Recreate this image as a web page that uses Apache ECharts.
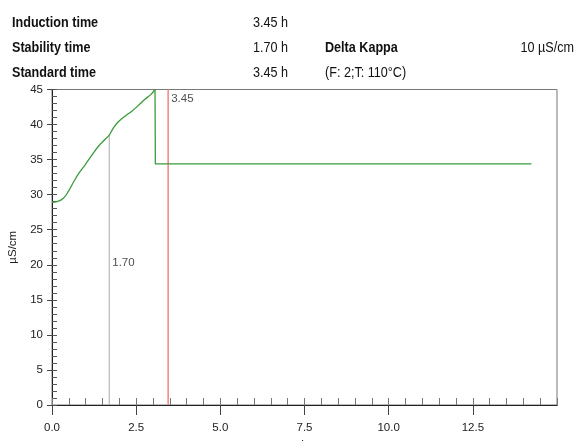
<!DOCTYPE html>
<html lang="en">
<head>
    <meta charset="UTF-8">
    <script src="https://cdn.jsdelivr.net/npm/echarts@6/dist/echarts.min.js"></script>
    <title>Rancimat</title>
    <style>
        html, body {margin: 0; padding: 0; background: #fff;}
    </style>
</head>
<body>

<div id="ec" style="width:574px;height:441px;"></div>

<script>
    // conductivity curve (h, µS/cm) up to the max
    var curveTime = [0, 0.15, 0.34, 0.49, 0.64, 0.79, 0.99, 1.18, 1.38, 1.58, 1.70, 1.82, 1.97, 2.17, 2.37, 2.56, 2.76, 2.94, 3.06];
    var curveValue = [28.9, 29.0, 29.5, 30.5, 31.8, 33.0, 34.3, 35.6, 36.9, 37.9, 38.5, 39.5, 40.4, 41.2, 41.9, 42.7, 43.6, 44.3, 45.0];
    // drop and flat part
    var tailTime = [3.06, 3.07, 14.24];
    var tailValue = [45.0, 34.4, 34.4];

    var stabilityTime = 1.70;
    var stabilityValue = 38.5;
    var inductionTime = 3.45;

    var infoLabels = ['Induction time', 'Stability time', 'Standard time'];
    var infoValues = ['3.45 h', '1.70 h', '3.45 h'];

    var xMin = 0, xMax = 15, xStep = 2.5;
    var yMin = 0, yMax = 45, yStep = 5;

    var FONT = "'Liberation Sans', Arial, sans-serif";
    var NARROW = 0.9;

    var myChart = echarts.init(document.getElementById('ec'));

    function pairs(a, b) { return a.map(function (t, i) { return [t, b[i]]; }); }

    // header texts (squeezed to look like a narrow face)
    var graphics = [];
    var rowY = [23, 48, 73];
    function txt(s, x, y, bold, alignRight) {
        graphics.push({
            type: 'text', x: x, y: y, scaleX: NARROW,
            style: {text: s, font: (bold ? 'bold ' : '') + '14px ' + FONT, fill: '#111',
                align: alignRight ? 'right' : 'left', verticalAlign: 'middle'}
        });
    }
    infoLabels.forEach(function (s, i) {
        txt(s, 12, rowY[i], true);
        txt(infoValues[i], 253, rowY[i], false);
    });
    txt('Delta Kappa', 325, rowY[1], true);
    txt('10 µS/cm', 574, rowY[1], false, true);
    txt('(F: 2;T: 110°C)', 325, rowY[2], false);

    var axisLine = {show: true, lineStyle: {color: '#222', width: 1}};
    var labelFont = {fontSize: 11.5, color: '#222', fontFamily: FONT};

    myChart.setOption({
        animation: false,
        textStyle: {fontFamily: FONT},
        graphic: graphics,
        grid: {
            left: 52, right: 17, top: 89.5, bottom: 36,
            outerBoundsMode: 'none', containLabel: false,
            show: true, borderColor: '#777', borderWidth: 1
        },
        xAxis: [{
            type: 'value', min: xMin, max: xMax, interval: xStep,
            name: 'h', nameLocation: 'middle', nameGap: 33,
            nameTextStyle: labelFont,
            axisLine: axisLine,
            axisTick: {show: true, inside: false, length: 10, lineStyle: {color: '#444'}},
            axisLabel: Object.assign({margin: 17, showMaxLabel: false,
                formatter: function (v) { return v.toFixed(1); }}, labelFont),
            splitLine: {show: false}
        }, {
            type: 'value', min: xMin, max: xMax, interval: 0.5, position: 'bottom',
            axisLine: axisLine,
            axisTick: {show: true, inside: true, length: 7, lineStyle: {color: '#777'}},
            axisLabel: {show: false},
            splitLine: {show: false}
        }],
        yAxis: [{
            type: 'value', min: yMin, max: yMax, interval: yStep,
            name: 'µS/cm', nameLocation: 'middle', nameGap: 22,
            nameTextStyle: labelFont,
            axisLine: axisLine,
            axisTick: {show: true, inside: false, length: 5, lineStyle: {color: '#444'}},
            axisLabel: Object.assign({margin: 9}, labelFont),
            splitLine: {show: false}
        }, {
            type: 'value', min: yMin, max: yMax, interval: 1, position: 'left',
            axisLine: axisLine,
            axisTick: {show: true, inside: true, length: 5, lineStyle: {color: '#555'}},
            axisLabel: {show: false},
            splitLine: {show: false}
        }],
        series: [{
            type: 'line',
            data: [[stabilityTime, yMin], [stabilityTime, stabilityValue]],
            showSymbol: false, lineStyle: {color: '#aaa', width: 1}, z: 2
        }, {
            type: 'line',
            data: [[inductionTime, yMin], [inductionTime, yMax]],
            showSymbol: false, lineStyle: {color: '#f48b8b', width: 1.6}, z: 2
        }, {
            type: 'line',
            data: pairs(curveTime, curveValue),
            showSymbol: false, smooth: 0.4,
            lineStyle: {color: '#3a9b3a', width: 1.3}, z: 3
        }, {
            type: 'line',
            data: pairs(tailTime, tailValue),
            showSymbol: false,
            lineStyle: {color: '#3a9b3a', width: 1.3}, z: 3
        }, {
            type: 'scatter',
            symbolSize: 0,
            data: [[inductionTime, yMax], [stabilityTime, 20.3]],
            label: Object.assign({
                show: true, position: 'right', distance: 3,
                formatter: function (p) { return p.value[0].toFixed(2); }
            }, labelFont),
            labelLayout: function (p) {
                return p.dataIndex === 0 ? {dy: 9} : {};
            },
            z: 4
        }]
    });
</script>

</body>
</html>
